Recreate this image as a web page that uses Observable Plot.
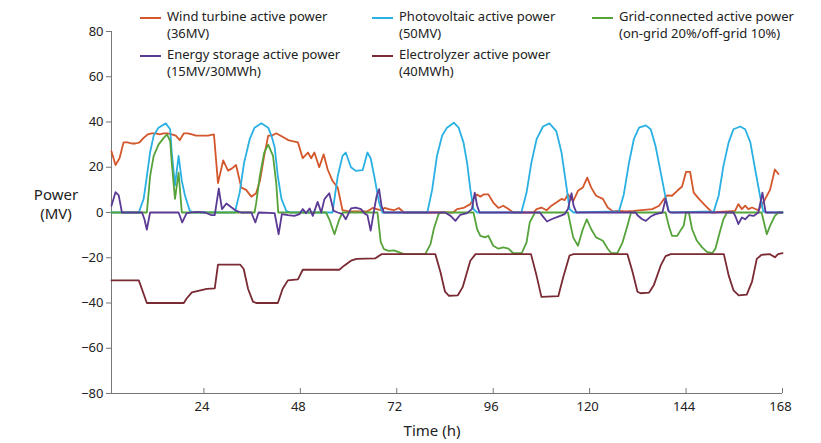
<!DOCTYPE html>
<html>
<head>
<meta charset="utf-8">
<script src="https://cdn.jsdelivr.net/npm/d3@7"></script>
<script src="https://cdn.jsdelivr.net/npm/@observablehq/plot@0.6"></script>
<style>
  html, body { margin: 0; padding: 0; background: #fff; }
  #wrap { position: relative; width: 821px; height: 443px; font-family: "Noto Sans", sans-serif; color: #222; }
  #chart { position: absolute; left: 0; top: 0; }
  .leg { position: absolute; font-size: 13px; line-height: 17px; white-space: nowrap; }
  .sw { position: absolute; width: 21px; height: 2px; }
  .lab { position: absolute; font-size: 15px; line-height: 17px; text-align: center; white-space: nowrap; }
</style>
</head>
<body>
<div id="wrap">
  <div id="chart"></div>
</div>
<script>
// ---- data ----
const xTicks = [24, 48, 72, 96, 120, 144, 168];
const yTicks = [-80, -60, -40, -20, 0, 20, 40, 60, 80];

const windHours = [1,2,3,4,5,6,7,8,9,10,11,12,13,14,15,16,17,18,19,20,21,22,23,24,25,26.5,27.5,28.8,30,31,32,33.3,34.5,35.8,37,38,39,40,41,42,43,44,45,46,47.4,48.6,49.9,50.7,51.5,52.7,53.8,54.8,56,57.3,58.5,60,62,64.7,66,67,68,69,70,71.3,72.5,73.8,86,87,88.6,90.3,91,92,92.8,93.6,94.8,96,97.3,98.5,99.8,101,106,106.8,108,109.3,110.5,111.7,113,113.8,114.6,115.9,117.1,118.3,119.4,120.4,121.6,123.3,124.5,125.8,127,129,131,135.6,137.3,138.5,139.3,140.5,141.8,143,144,145,145.9,147.2,148.8,150.5,156.2,157,157.9,158.7,159.5,160.4,162,163.7,164.9,166.1,167];
const windPower = [27,21,24,31,31,30.5,30.5,31,33,34.5,35,35,34.5,35,35,34.5,34,32,35,35,34.5,34,34,34,34,34.5,13,23,18.5,19.5,21,11,10,7,8.5,14.5,25,34,34,35,34,33,32,31.5,31,24,26.5,24,26.5,20,25.7,19,14,11,1,0.5,0.5,0.5,2,1.5,1,2,1.5,1,2,0,0,1.5,2,3.7,6,8,7,8,8,4.4,2,3,1.5,0,0,1.5,2.2,1,3,4.4,6,5.5,8,5,9.6,11,15.4,11,7.4,6,2.2,0.5,0.7,0.5,0.7,1.5,3,6,7.6,7.4,9.6,11.5,18,18,8.8,6,3,0,0.7,3.7,1.5,3,1.5,2.2,1,6,10,19,17];

const pvHours = [1,7.8,9,9.8,10.6,11.5,12.7,14.5,15.6,16,16.8,17.7,18.5,19.3,20.5,21.5,31.7,32.9,34,35.4,36.6,38.3,40,40.8,41.6,42.4,43.3,44.5,45.5,56,57.3,58.5,59.3,60.6,61.8,63.5,64.7,65.5,66.4,67.6,68.4,79.6,80.8,82,83.3,84.5,86.2,87.4,88.6,89.5,90.3,91.1,92,103,104.3,105.5,106.8,108.4,110,111.7,113,114.2,115,116,127.3,128.5,129.8,131,132.3,134,135.2,136.4,137.7,138.9,139.7,140.5,150.9,152.1,153.3,154.6,155.8,157.5,158.7,160,161.2,162.4,163.2,164,168];
const pvPower = [0,0,6,16,26.5,34,37.5,39.4,36.8,26.5,12,25,14,7.4,0.7,0,0,8.8,22,32.4,37.5,39.4,37.5,34,29,16,6,0.7,0,0,16,25,26.5,20,18.4,18.7,26.5,24,16,4.4,0,0,10,25,34,37.5,39.7,37.5,31,22,10.3,1.5,0,0,8.8,22,32.4,38,39.4,36,26.5,11.8,1.5,0,0.5,8,22,32.4,37.5,38.5,36.8,29.4,17.6,6.6,0.5,0,0.5,7.4,20.6,31,36.8,38,36.8,31,19,7.4,0.5,0,0];

const gridHours = [1,9.8,10.6,11.5,12.7,14,14.8,15.6,16,16.8,17.7,18.5,36.6,37,37.9,39,40,41.2,42,42.5,54.4,55.2,56.5,57.7,58.5,67.2,68,68.8,70,71.3,72.5,73.8,79.1,80.4,81.2,82.4,83,91.1,92,92.8,94,94.8,96,97.3,98.5,99.8,101,103.1,104.3,105.1,106.4,114.6,115.9,117.1,118.3,119.3,120.4,121.6,123.3,124.5,125.4,126.9,128.2,129.4,130.3,138.9,139.7,140.5,141.8,142.6,143.4,144,144.7,145.5,146.7,148,149.2,150.5,151.3,152.5,153.3,154.2,162.8,163.2,164.1,164.9,166.1,167,168];
const gridPower = [0,0,16,25,30,33,34.5,31.6,22,6,17.6,0,0,4,16,26.5,30,25,13,0,0,-3,-9.6,-3,0,0,-13,-16.2,-17,-16.7,-17.5,-18.4,-18.4,-14,-7.4,-0.7,0,0,-7.4,-10.3,-11,-10.3,-14.7,-16,-15.4,-16,-18,-18,-13.2,-4.4,0,0,-11,-14.7,-7.4,-3,-7.4,-11,-12.5,-16,-18,-18,-13.2,-5.9,0,0,-5.9,-10.3,-10.3,-8,-5.9,0,0,-7.4,-12.5,-15.4,-17.4,-18,-16,-8,-3,0,0,-3,-9.6,-5.9,-1.5,0,0];

const storageHours = [1,2,2.8,3.6,8.6,9.2,9.8,10.6,17.7,18.6,19.7,22.2,24.3,25.9,26.7,27.7,28.5,29.6,30.9,32.1,33.3,35.8,36.8,37.6,41.6,42.6,43.4,44.9,46.5,47.8,48.6,49.4,50.3,51.1,52.3,53.2,54,55.2,56.3,57.3,58.5,59.3,60.6,61.8,63.1,63.9,64.7,65.5,66.4,67,67.6,68.2,68.8,84,85.4,86.6,87.8,89.5,90.7,91.4,92,92.6,107.6,108.4,109.4,110.5,112.2,113.8,114.6,115.5,116,116.7,131.5,131.9,133.1,134,135.2,136.4,138.1,138.9,139.6,140.1,155.8,156.4,157,157.9,158.7,159.7,160.8,162,163,163.8,168];
const storagePower = [3,9,7.6,0,0,-3,-7.6,0,0,-4.4,-0.3,0.3,0,-1.2,-1.2,10.6,1.5,4,2.2,0.7,0,0,-4.4,0,-0.3,-9.6,-0.7,-1.2,-1.5,-0.7,1.5,-0.3,1.8,-1.5,4.7,0,5.9,8.5,0.7,0,-0.7,-3,1.8,2.2,1.5,-0.3,-1.2,-8,1.5,7.4,10.3,3,0,0,-1.5,-3.7,-1,-0.3,1.5,8.8,3,0,0,-1.8,-4,-3,-1.8,-0.7,1.5,8.5,3,0,0,-1.2,-3,-3.7,-1.8,-0.7,0,6,0.7,0,0,-2.2,-5.1,-2.2,-3,-1.2,-1.5,0,8.8,0,0];

const elecHours = [1,7.8,9.8,19,19.7,21,22.6,24.7,26.7,27.5,33,33.9,35,36.2,37,42.4,43.6,44.9,47.4,48.6,57.7,58.9,60.6,62,66.6,68.2,81.6,82.9,84,85,87.2,88.4,90.3,91.6,105.4,106.8,108,112.2,113.4,115,116,129.4,130.7,131.9,132.7,134.8,136,137.7,138.9,140.2,153.4,154.6,155.8,157.1,159.1,160.4,161.6,162.8,164.9,166.1,166.9,168];
const elecPower = [-30,-30,-40,-40,-38,-35.3,-34.6,-33.8,-33.5,-23,-23,-25,-33.8,-39.4,-40,-40,-33.7,-30,-29.6,-25.3,-25.3,-23.5,-21.3,-20.5,-20.3,-18.4,-18.4,-26.5,-35,-36.8,-36.6,-33,-21.3,-18.4,-18.4,-28,-37.3,-37,-28.7,-19,-18.4,-18.4,-26.4,-35,-35.7,-35.4,-32,-23.4,-19.3,-18.4,-18.4,-27.8,-34.4,-36.6,-36.3,-30.7,-20.5,-18.7,-18.4,-19.8,-18.4,-18];

const series = [
  {name: "Wind turbine active power", sub: "(36MV)", color: "#d4562b", hours: windHours, values: windPower},
  {name: "Photovoltaic active power", sub: "(50MV)", color: "#2ab0e2", hours: pvHours, values: pvPower},
  {name: "Grid-connected active power", sub: "(on-grid 20%/off-grid 10%)", color: "#55a33a", hours: gridHours, values: gridPower},
  {name: "Energy storage active power", sub: "(15MV/30MWh)", color: "#5a3a94", hours: storageHours, values: storagePower},
  {name: "Electrolyzer active power", sub: "(40MWh)", color: "#7a2a33", hours: elecHours, values: elecPower}
];

const toRows = s => s.hours.map((h, i) => ({h, v: s.values[i]}));

const chart = Plot.plot({
  width: 821,
  height: 443,
  marginLeft: 111,
  marginRight: 39,
  marginTop: 31,
  marginBottom: 50,
  style: {fontFamily: "Noto Sans, sans-serif", fontSize: "13px", color: "#222", background: "#fff"},
  x: {domain: [1, 168], label: null},
  y: {domain: [-80, 80], label: null},
  marks: [
    Plot.axisY({ticks: yTicks, tickSize: 5, tickPadding: 3, stroke: "#777", label: null, fontSize: 13}),
    Plot.axisX({ticks: xTicks, tickSize: 0, tickPadding: 8, label: null, fontSize: 13, dx: -2}),
    Plot.ruleX(xTicks, {x: d => d, y1: -80, y2: -77.8, stroke: "#777"}),
    Plot.ruleY([-80], {stroke: "#777"}),
    Plot.ruleX([1], {stroke: "#777"}),
    ...series.map(s => Plot.line(toRows(s), {x: "h", y: "v", stroke: s.color, strokeWidth: 1.8}))
  ]
});
document.getElementById("chart").appendChild(chart);

// legend (HTML overlay)
const wrap = document.getElementById("wrap");
const legPos = [[140, 10], [372, 10], [592, 10], [140, 48], [372, 48]];
series.forEach((s, i) => {
  const [x, y] = legPos[i];
  const sw = document.createElement("div");
  sw.className = "sw";
  sw.style.left = x + "px";
  sw.style.top = (y + 7) + "px";
  sw.style.background = s.color;
  wrap.appendChild(sw);
  const t = document.createElement("div");
  t.className = "leg";
  t.style.left = (x + 27) + "px";
  t.style.top = (y - 2) + "px";
  t.innerHTML = s.name + "<br>" + s.sub;
  wrap.appendChild(t);
});
function addLabel(text, left, top, width) {
  const d = document.createElement("div");
  d.className = "lab";
  d.style.left = left + "px"; d.style.top = top + "px"; d.style.width = width + "px";
  d.textContent = text;
  wrap.appendChild(d);
}
addLabel("Power", 20, 186, 72);
addLabel("(MV)", 20, 205, 72);
addLabel("Time (h)", 372, 422, 120);
</script>
</body>
</html>
